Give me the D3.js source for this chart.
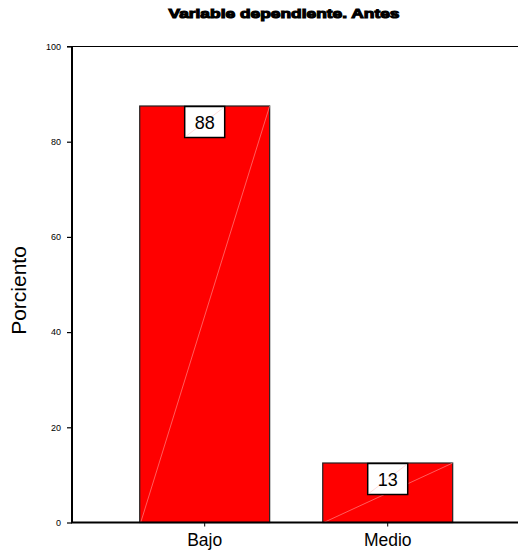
<!DOCTYPE html>
<html>
<head>
<meta charset="utf-8">
<script src="https://cdn.jsdelivr.net/npm/d3@7"></script>
<style>
  html, body { margin: 0; padding: 0; background: #fff; }
  svg { display: block; }
</style>
</head>
<body>
<svg id="chart" width="518" height="556"></svg>
<script>
// Data
const categories = ["Bajo", "Medio"];
const percents = [87.5, 12.5];
const yTicks = [0, 20, 40, 60, 80, 100];
const titleText = "Variable dependiente. Antes";
const yLabel = "Porciento";

const svg = d3.select("#chart");
const W = 518, H = 556;
const plotLeft = 72, plotBottom = 522.5, plotTop = 46.5;

const y = d3.scaleLinear().domain([0, 100]).range([plotBottom, plotTop]);
const x = d3.scaleBand().domain(categories)
  .range([plotLeft, 520.4]).paddingInner(0.29).paddingOuter(0.37);

const fmt = d3.format(".0f");
const FONT = "Liberation Sans, Arial, sans-serif";

// Title (heavy, wide face)
svg.append("text")
  .attr("x", 284).attr("y", 18)
  .attr("text-anchor", "middle")
  .attr("font-family", FONT)
  .attr("font-weight", "bold")
  .attr("font-size", 13.5)
  .attr("textLength", 231)
  .attr("lengthAdjust", "spacingAndGlyphs")
  .attr("stroke", "#000").attr("stroke-width", 1.1)
  .attr("fill", "#000")
  .text(titleText);

// Top frame line
svg.append("line")
  .attr("x1", 67).attr("x2", W).attr("y1", plotTop).attr("y2", plotTop)
  .attr("stroke", "#000").attr("stroke-width", 1.2);

// Bars
const bars = svg.append("g");
categories.forEach((c, i) => {
  const x0 = x(c), bw = x.bandwidth(), yt = y(percents[i]);
  bars.append("rect")
    .attr("x", x0).attr("y", yt)
    .attr("width", bw).attr("height", plotBottom - yt)
    .attr("fill", "#ff0000")
    .attr("stroke", "#222").attr("stroke-width", 1.2);
  // diagonal highlight across the bar
  bars.append("line")
    .attr("x1", x0 + 1).attr("y1", plotBottom)
    .attr("x2", x0 + bw).attr("y2", yt)
    .attr("stroke", "#ff9a9a").attr("stroke-width", 0.6);

  // value box
  const bxW = 40, bxH = 31;
  const bx = x0 + bw / 2 - bxW / 2, by = yt + 0.5;
  bars.append("rect")
    .attr("x", bx).attr("y", by)
    .attr("width", bxW).attr("height", bxH)
    .attr("fill", "#fff")
    .attr("stroke", "#000").attr("stroke-width", 1.5);
  bars.append("line")
    .attr("x1", bx + 1).attr("y1", by + bxH - 1)
    .attr("x2", bx + bxW - 1).attr("y2", by + 1)
    .attr("stroke", "#ffc4c4").attr("stroke-width", 0.6);
  bars.append("text")
    .attr("x", x0 + bw / 2).attr("y", by + bxH / 2 + 6.5)
    .attr("text-anchor", "middle")
    .attr("font-family", FONT)
    .attr("font-size", 18)
    .attr("fill", "#000")
    .text(fmt(percents[i]));
});

// Y axis
const yAxis = d3.axisLeft(y).tickValues(yTicks).tickSize(5).tickPadding(6).tickFormat(fmt);
const gy = svg.append("g").attr("transform", `translate(${plotLeft},0)`).call(yAxis);
gy.select(".domain").remove();
gy.selectAll(".tick line").attr("stroke", "#000").attr("stroke-width", 1.2);
gy.selectAll(".tick text")
  .attr("font-family", FONT)
  .attr("font-size", 9).attr("fill", "#000");
svg.append("line")
  .attr("x1", plotLeft).attr("x2", plotLeft).attr("y1", plotTop).attr("y2", plotBottom)
  .attr("stroke", "#000").attr("stroke-width", 2);

// X axis
const xAxis = d3.axisBottom(x).tickSize(4).tickPadding(7);
const gx = svg.append("g").attr("transform", `translate(0,${plotBottom})`).call(xAxis);
gx.select(".domain").remove();
gx.selectAll(".tick line").attr("stroke", "#000").attr("stroke-width", 1);
gx.selectAll(".tick text")
  .attr("font-family", FONT)
  .attr("font-size", 17.5).attr("fill", "#000");
svg.append("line")
  .attr("x1", plotLeft - 1).attr("x2", W).attr("y1", plotBottom).attr("y2", plotBottom)
  .attr("stroke", "#000").attr("stroke-width", 2);

// Y label
svg.append("text")
  .attr("transform", `translate(26,${(plotTop + plotBottom) / 2 + 6}) rotate(-90)`)
  .attr("text-anchor", "middle")
  .attr("font-family", FONT)
  .attr("font-size", 21)
  .attr("fill", "#000")
  .text(yLabel);
</script>
</body>
</html>
